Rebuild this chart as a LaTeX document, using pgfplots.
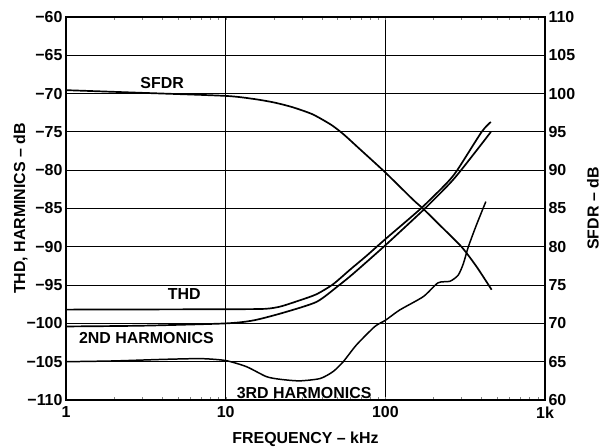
\documentclass[border=0pt]{standalone}
\usepackage{fontspec}
\setmainfont{Liberation Sans}
\usepackage{pgfplots}
\pgfplotsset{compat=1.18}

\newcommand\chartfont{\fontsize{16}{19}\selectfont\bfseries}

\begin{document}
\begin{tikzpicture}[font=\chartfont]
\pgfplotsset{
  every axis/.append style={
    scale only axis, width=479bp, height=383bp,
    xmode=log, xmin=1, xmax=1000,
    major tick length=0pt,
    minor xtick={},
    axis line style={line width=1.8pt},
    font=\chartfont,
    tick label style={font=\chartfont},
    label style={font=\chartfont},
  },
  curve/.style={black, line width=1.7pt, smooth, tension=0.4, no marks},
}
% left axis: THD and harmonics
\begin{axis}[
  ymin=-110, ymax=-60,
  xtick={1,10,100,1000}, xticklabels={1,10,100,1k},
  xticklabel style={yshift=-3pt},
  ytick={-110,-105,...,-60},
  yticklabels={−110,−105,−100,−95,−90,−85,−80,−75,−70,−65,−60},
  grid=major,
  grid style={black, line width=0.9pt},
  xlabel={FREQUENCY – kHz},
  ylabel={THD, HARMINICS – dB},
  xlabel style={at={(axis description cs:0.5,-0.102)}, anchor=center},
  ylabel style={at={(axis description cs:-0.095,0.5)}, anchor=center},
]
% THD
\addplot[curve] coordinates {
  (1,-98.2) (10,-98.15) (17.6,-98.1) (22,-97.8) (29,-97.0) (37,-96.2)
  (47,-94.9) (60,-93.0) (76,-91.2) (100,-89.0) (167,-85.0) (242,-81.7)
  (282,-80.0) (401,-75.0) (458,-73.7)
};
% 2nd harmonics
\addplot[curve] coordinates {
  (1,-100.4) (3,-100.3) (10,-100.0) (15,-99.6) (23,-98.6) (37,-97.2)
  (50,-95.2) (63,-93.5) (100,-89.8) (177,-85.0) (254,-81.7) (298,-80.0)
  (400,-76.6) (458,-75.0)
};
% 3rd harmonics
\addplot[curve, line width=1.5pt] coordinates {
  (1,-105.0) (2,-104.9) (4,-104.7) (7,-104.6) (10,-104.85) (13.5,-105.65)
  (18,-106.95) (22,-107.3) (29,-107.5) (39,-107.2) (47,-106.3) (54.5,-105.0)
  (66,-102.8) (86,-100.4) (100,-99.6) (123,-98.25) (173,-96.5) (214,-94.7)
  (254,-94.5) (286,-93.7) (308,-92.2) (331,-90.0) (372,-87.15) (426,-84.1)
};
\node at (axis cs:4,-68.6) {SFDR};
\node at (axis cs:5.5,-96.2) {THD};
\node at (axis cs:3.19,-101.9) {2ND HARMONICS};
\node at (axis cs:31,-109.15) {3RD HARMONICS};
\end{axis}
% right axis: SFDR
\begin{axis}[
  axis x line=none, axis y line*=right,
  ymin=60, ymax=110,
  ytick={60,65,...,110},
  yticklabels={60,65,70,75,80,85,90,95,100,105,110},
  ylabel={SFDR – dB},
  ylabel style={at={(axis description cs:1.1,0.5)}, anchor=center},
]
\addplot[curve] coordinates {
  (1,100.45) (3,100.1) (10,99.7) (15,99.3) (20,98.85) (26,98.25) (35,97.3)
  (46,95.9) (55,94.65) (68,92.9) (100,89.7) (150,86.1) (172,85.0)
  (220,82.8) (300,80.0) (373,77.4) (463,74.4)
};
\end{axis}
\pgfresetboundingbox
\useasboundingbox (-66bp,-47bp) rectangle (544bp,400bp);
\end{tikzpicture}
\end{document}
